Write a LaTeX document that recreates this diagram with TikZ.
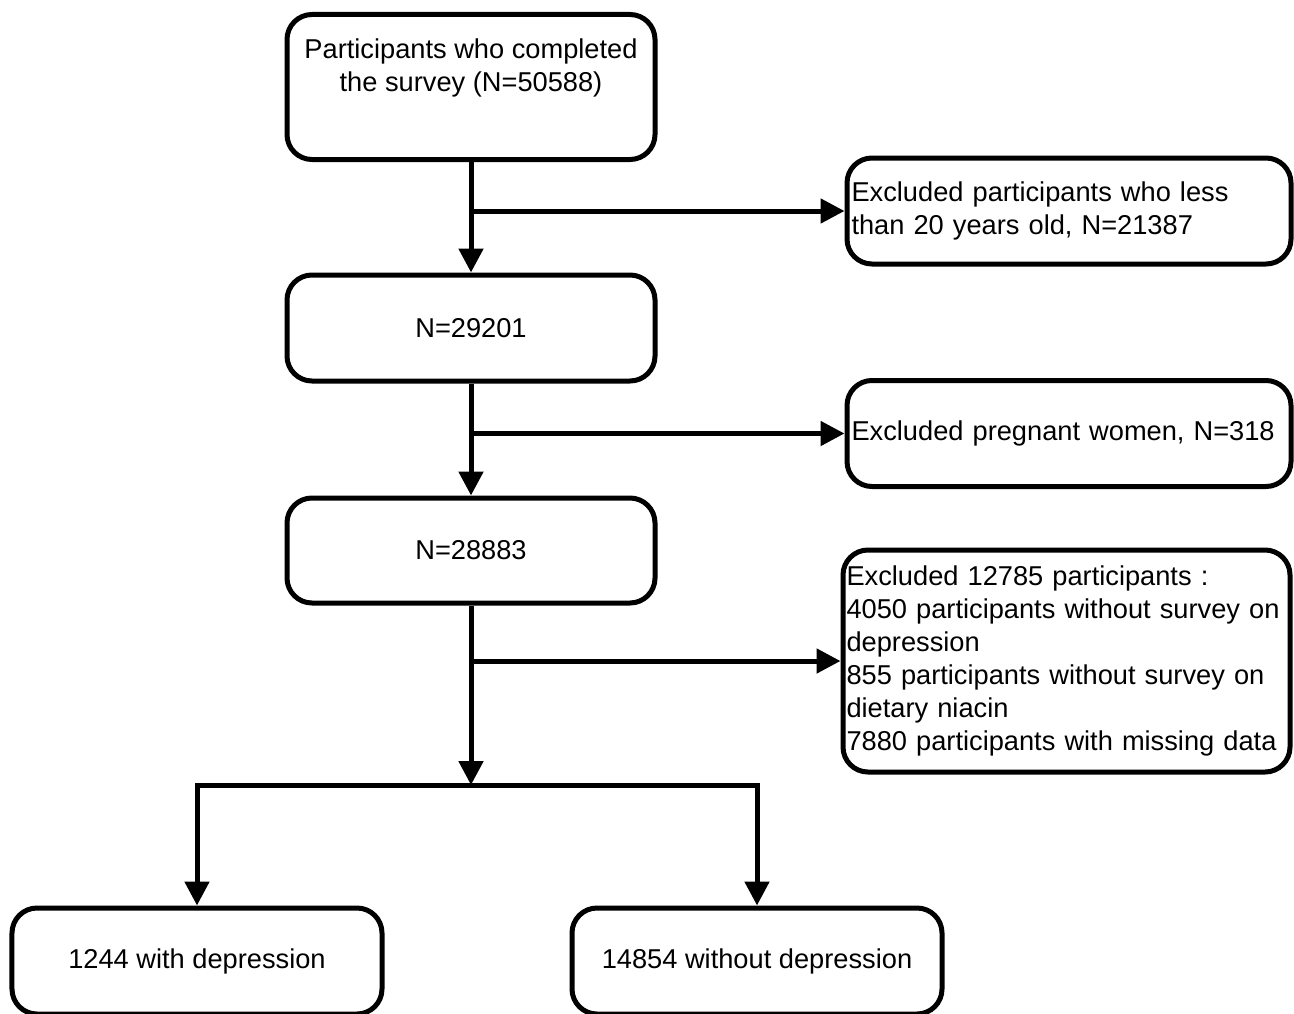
\documentclass[tikz,border=0pt]{standalone}
\usepackage{fontspec}
\setmainfont{Liberation Sans}
\usetikzlibrary{arrows.meta,positioning}

\begin{document}
\begin{tikzpicture}
	[x=0.2mm, y=-0.2mm,
	stage/.style={rectangle, draw, line width=1mm, rounded corners=5mm, minimum width=73.6mm, minimum height=21.2mm, align=center, font=\fontsize{15.5}{18.8}\selectfont},
	excl/.style={rectangle, draw, line width=1mm, rounded corners=5mm, minimum width=88.8mm, minimum height=21.2mm, inner xsep=0.8mm, text width=87mm, align=left, font=\fontsize{15.5}{18.8}\selectfont},
	post/.style={-{Triangle[length=4.8mm, width=4.8mm]}, line width=1mm}]
	\useasboundingbox (0,0) rectangle (1294,1013);
	\node (survey) [stage, minimum height=29mm] at (471,87) {Participants who completed\\the survey (N=50588)\\\strut};
	\node (adults) [stage] at (471,328) {N=29201};
	\node (nonpreg) [stage, minimum height=21mm] at (471,550.5) {N=28883};
	\node (exage) [excl] at (1069,211) {Excluded participants who less\\than 20 years old, N=21387};
	\node (expreg) [excl] at (1069,433.5) {Excluded pregnant women, N=318};
	\node (exmiss) [excl, minimum width=89.4mm, inner xsep=0.7mm, text width=88mm, minimum height=44.4mm] at (1066.5,661) {Excluded 12785 participants :\\4050 participants without survey on\\depression\\855 participants without survey on\\dietary niacin\\7880 participants with missing data};
	\node (dep) [stage, minimum width=74mm] at (197,961) {1244 with depression};
	\node (nodep) [stage, minimum width=74mm] at (757,961) {14854 without depression};
	\coordinate (split) at (471,785);
	\draw [post] (survey.south) -- (adults.north);
	\draw [post] (survey.south |- exage.west) -- (exage.west);
	\draw [post] (adults.south) -- (nonpreg.north);
	\draw [post] (adults.south |- expreg.west) -- (expreg.west);
	\draw [post] (nonpreg.south) -- (split);
	\draw [post] (nonpreg.south |- exmiss.west) -- (exmiss.west);
	\draw [post] (split) -| (dep.north);
	\draw [post] (split) -| (nodep.north);
\end{tikzpicture}
\end{document}
